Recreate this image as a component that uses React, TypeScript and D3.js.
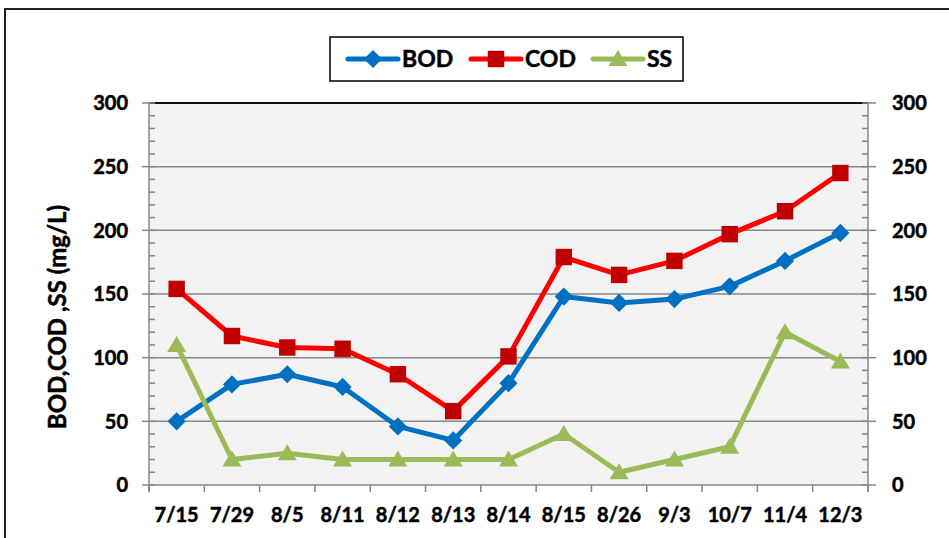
import * as d3 from "d3";
import { useEffect, useRef } from "react";

const dates = ["7/15", "7/29", "8/5", "8/11", "8/12", "8/13", "8/14", "8/15", "8/26", "9/3", "10/7", "11/4", "12/3"];
const bod = [50, 79, 87, 77, 46, 35, 80, 148, 143, 146, 156, 176, 198];
const cod = [154, 117, 108, 107, 87, 58, 101, 179, 165, 176, 197, 215, 245];
const ss = [110, 20, 25, 20, 20, 20, 20, 40, 10, 20, 30, 120, 97];
const yTicks = [0, 50, 100, 150, 200, 250, 300];
const yMinor = d3.range(0, 301, 10);

const FONT = "Lato, 'Open Sans', sans-serif";

export default function App() {
  const ref = useRef<SVGSVGElement>(null);

  useEffect(() => {
    document.body.style.margin = "0";
    const svg = d3.select(ref.current);
    svg.selectAll("*").remove();

    const left = 149, right = 868, top = 103, bottom = 485;

    const x = d3.scaleBand<string>().domain(dates).range([left, right]).padding(0);
    const y = d3.scaleLinear().domain([0, 300]).range([bottom, top]);
    const cx = (d: string) => (x(d) as number) + x.bandwidth() / 2;

    // outer frame
    svg.append("rect")
      .attr("x", 5).attr("y", 9)
      .attr("width", 960).attr("height", 560)
      .attr("fill", "#fff")
      .attr("stroke", "#222")
      .attr("stroke-width", 2);

    // plot area
    svg.append("rect")
      .attr("x", left).attr("y", top)
      .attr("width", right - left).attr("height", bottom - top)
      .attr("fill", "#f2f2f2");

    const grid = svg.append("g");
    grid.selectAll("line")
      .data(yTicks.filter((t) => t > 0))
      .enter()
      .append("line")
      .attr("x1", left).attr("x2", right)
      .attr("y1", (d) => y(d)).attr("y2", (d) => y(d))
      .attr("stroke", (d) => (d === 300 ? "#111" : "#868686"))
      .attr("stroke-width", (d) => (d === 300 ? 2 : 1.5));

    const axisColor = "#868686";
    const axes = svg.append("g").attr("stroke", axisColor).attr("stroke-width", 1.5);

    // axis lines
    axes.append("line").attr("x1", left).attr("x2", left).attr("y1", top).attr("y2", bottom + 7);
    axes.append("line").attr("x1", right).attr("x2", right).attr("y1", top).attr("y2", bottom + 7);
    axes.append("line").attr("x1", left).attr("x2", right).attr("y1", bottom).attr("y2", bottom);

    // minor y ticks (inside)
    axes.selectAll("line.minL")
      .data(yMinor)
      .enter()
      .append("line")
      .attr("class", "minL")
      .attr("x1", left).attr("x2", left + 6)
      .attr("y1", (d) => y(d)).attr("y2", (d) => y(d));
    axes.selectAll("line.minR")
      .data(yMinor)
      .enter()
      .append("line")
      .attr("class", "minR")
      .attr("x1", right - 6).attr("x2", right)
      .attr("y1", (d) => y(d)).attr("y2", (d) => y(d));

    // major y ticks (outside)
    axes.selectAll("line.majL")
      .data(yTicks)
      .enter()
      .append("line")
      .attr("class", "majL")
      .attr("x1", left - 7).attr("x2", left)
      .attr("y1", (d) => y(d)).attr("y2", (d) => y(d));
    axes.selectAll("line.majR")
      .data(yTicks)
      .enter()
      .append("line")
      .attr("class", "majR")
      .attr("x1", right).attr("x2", right + 8)
      .attr("y1", (d) => y(d)).attr("y2", (d) => y(d));

    // x ticks between categories
    const bounds = dates.map((d) => x(d) as number).concat([right]);
    axes.selectAll("line.xt")
      .data(bounds)
      .enter()
      .append("line")
      .attr("class", "xt")
      .attr("x1", (d) => d).attr("x2", (d) => d)
      .attr("y1", bottom).attr("y2", bottom + 7);

    // tick labels (slight stroke to get the heavier look)
    const lbl = svg.append("g")
      .attr("font-family", FONT)
      .attr("font-weight", "bold")
      .attr("font-size", 20)
      .attr("fill", "#000")
      .attr("stroke", "#000")
      .attr("stroke-width", 0.5);

    lbl.selectAll("text.yl")
      .data(yTicks)
      .enter()
      .append("text")
      .attr("class", "yl")
      .attr("x", 128)
      .attr("y", (d) => y(d))
      .attr("dy", "0.36em")
      .attr("text-anchor", "end")
      .text((d) => d);

    lbl.selectAll("text.yr")
      .data(yTicks)
      .enter()
      .append("text")
      .attr("class", "yr")
      .attr("x", 892)
      .attr("y", (d) => y(d))
      .attr("dy", "0.36em")
      .attr("text-anchor", "start")
      .text((d) => d);

    lbl.selectAll("text.xl")
      .data(dates)
      .enter()
      .append("text")
      .attr("class", "xl")
      .attr("x", (d) => cx(d))
      .attr("y", 522)
      .attr("text-anchor", "middle")
      .text((d) => d);

    // y axis title
    svg.append("text")
      .attr("transform", "translate(66,317) rotate(-90)")
      .attr("text-anchor", "middle")
      .attr("font-family", FONT)
      .attr("font-weight", "bold")
      .attr("font-size", 24)
      .attr("stroke", "#000")
      .attr("stroke-width", 0.5)
      .text("BOD,COD ,SS (mg/L)");

    // series
    const series = [
      { name: "BOD", values: bod, line: "#0070C0", fill: "#0070C0", shape: "diamond" },
      { name: "COD", values: cod, line: "#FF0000", fill: "#C00000", shape: "square" },
      { name: "SS", values: ss, line: "#9BBB59", fill: "#9BBB59", shape: "triangle" },
    ];

    const marker = (shape: string) => {
      if (shape === "diamond") return d3.symbol().type(d3.symbolSquare).size(165)();
      if (shape === "square") return d3.symbol().type(d3.symbolSquare).size(270)();
      return "M0,-9L9.5,7L-9.5,7Z";
    };
    const rot = (shape: string) => (shape === "diamond" ? " rotate(45)" : "");

    const line = d3.line<number>()
      .x((d, i) => cx(dates[i]))
      .y((d) => y(d));

    series.forEach((s) => {
      const g = svg.append("g");
      g.append("path")
        .attr("d", line(s.values))
        .attr("fill", "none")
        .attr("stroke", s.line)
        .attr("stroke-width", 5)
        .attr("stroke-linejoin", "round");
      g.selectAll("path.m")
        .data(s.values)
        .enter()
        .append("path")
        .attr("class", "m")
        .attr("d", marker(s.shape))
        .attr("transform", (d, i) => `translate(${cx(dates[i])},${y(d)})${rot(s.shape)}`)
        .attr("fill", s.fill);
    });

    // legend
    const legend = svg.append("g");
    legend.append("rect")
      .attr("x", 330).attr("y", 37)
      .attr("width", 353).attr("height", 44)
      .attr("fill", "#fff")
      .attr("stroke", "#000")
      .attr("stroke-width", 1.5);

    const legX = [348, 471, 593];
    series.forEach((s, i) => {
      const lg = legend.append("g").attr("transform", `translate(${legX[i]},59)`);
      lg.append("line")
        .attr("x1", 0).attr("x2", 50)
        .attr("stroke", s.line)
        .attr("stroke-width", 5)
        .attr("stroke-linecap", "round");
      lg.append("path")
        .attr("d", marker(s.shape))
        .attr("transform", `translate(25,0)${rot(s.shape)}`)
        .attr("fill", s.fill);
      lg.append("text")
        .attr("x", 54)
        .attr("y", 8)
        .attr("font-family", FONT)
        .attr("font-weight", "bold")
        .attr("font-size", 23)
        .attr("stroke", "#000")
        .attr("stroke-width", 0.5)
        .text(s.name);
    });
  }, []);

  return (
    <div style={{ width: 949, height: 538, overflow: "hidden" }}>
      <svg ref={ref} width={949} height={538} style={{ display: "block" }}></svg>
    </div>
  );
}
